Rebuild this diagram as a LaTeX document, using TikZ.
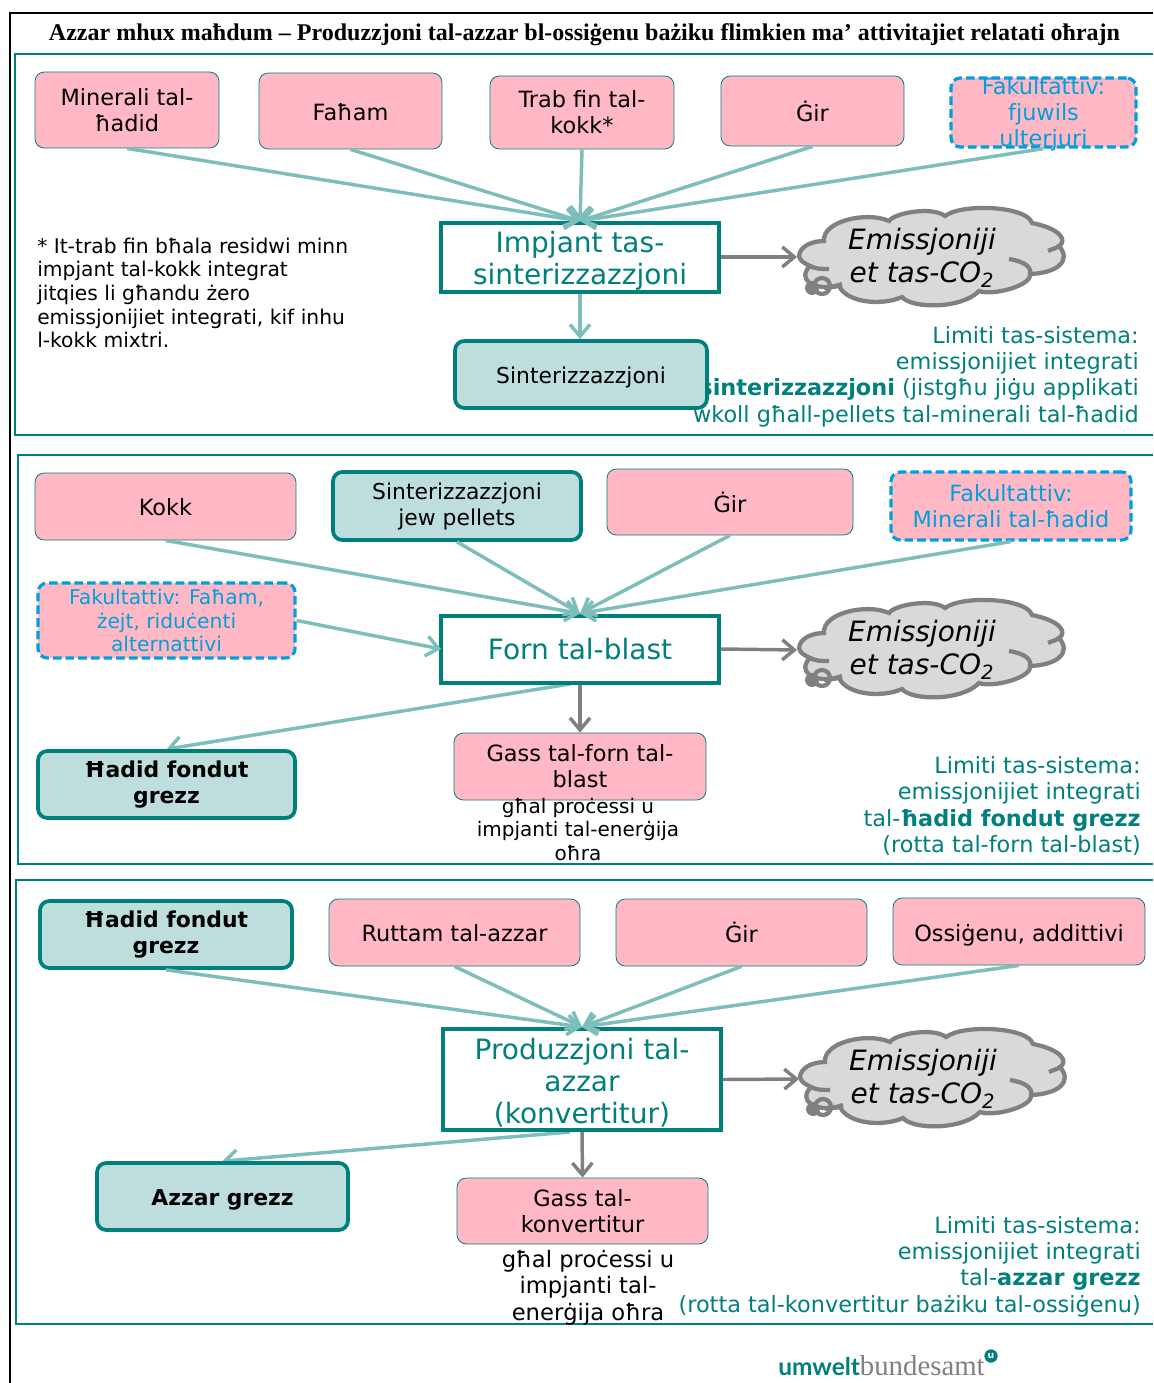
\documentclass[tikz,border=0pt]{standalone}
\usepackage{fontspec}
\setmainfont{DejaVu Sans}
\newfontfamily\headfont{Liberation Serif}
\newfontfamily\logofont{Lato}
\usetikzlibrary{arrows.meta,backgrounds}
\definecolor{ub_teal}{RGB}{0, 128, 124}
\definecolor{ub_line}{RGB}{125, 190, 186}
\definecolor{ub_pink}{RGB}{255, 184, 196}
\definecolor{ub_green}{RGB}{189, 222, 220}
\definecolor{ub_blue}{RGB}{0, 160, 220}
\definecolor{ub_gray}{RGB}{128, 128, 128}
\definecolor{ub_cloud}{RGB}{217, 217, 217}
\newcommand{\sk}{\rule{0pt}{1em}}
\tikzset{sz/.style 2 args={minimum width=#1*0.75pt,minimum height=#2*0.75pt}}
\tikzstyle{pn}=[rectangle,rounded corners=7pt,fill=ub_pink,draw=ub_teal,
  line width=0.6pt,inner sep=0pt,align=center,
  execute at begin node={\rule{0pt}{.85em}},
  font=\fontsize{16.8}{19.5}\selectfont]
\tikzstyle{dn}=[pn,draw=ub_blue,line width=2.4pt,dash pattern=on 6.5pt off 3pt,
  text=ub_blue]
\tikzstyle{gn}=[pn,fill=ub_green,line width=2.8pt,
  execute at begin node={\rule{0pt}{1.03em}},
  font=\fontsize{16.4}{19.5}\selectfont]
\tikzstyle{wn}=[rectangle,fill=white,draw=ub_teal,line width=3pt,inner sep=0pt,
  align=center,text=ub_teal,font=\fontsize{21}{24}\selectfont]
\tikzstyle{cn}=[inner sep=0pt,align=center,
  font=\fontsize{21}{24.5}\itshape\selectfont]
\tikzstyle{ln}=[inner sep=0pt,anchor=east,align=right,text=ub_teal,
  font=\fontsize{16.8}{19.8}\selectfont]
\tikzstyle{tn}=[inner sep=0pt,align=center,font=\fontsize{15}{17.6}\selectfont]
\tikzstyle{feed}=[draw=ub_line,line width=2.6pt,
  -{Straight Barb[length=9pt,width=15pt]}]
\tikzstyle{prod}=[draw=ub_gray,line width=2.6pt,
  -{Straight Barb[length=9pt,width=15pt]}]
\tikzstyle{panel}=[draw=ub_teal,line width=1.6pt]
\tikzset{emcloud/.pic={
  \path [fill=ub_cloud,draw=ub_gray,line width=3.2pt]
    (17,65) .. controls (18,55) and (30,50) .. (42,50)
    .. controls (40,30) and (85,20) .. (107,30)
    .. controls (112,22) and (150,15) .. (163,25)
    .. controls (180,12) and (245,15) .. (250,32)
    .. controls (280,38) and (285,50) .. (277,55)
    .. controls (290,70) and (275,82) .. (248,83)
    .. controls (250,95) and (210,105) .. (197,100)
    .. controls (180,118) and (130,118) .. (120,106)
    .. controls (100,115) and (65,112) .. (57,95)
    .. controls (30,100) and (15,88) .. (28,75)
    .. controls (22,72) and (18,70) .. (17,65) -- cycle;
  \draw [ub_gray,line width=3.2pt] (227,68) .. controls (240,70) and (250,75) .. (248,83);
  \draw [ub_gray,line width=3.2pt] (266,60) .. controls (270,58) and (275,57) .. (277,55);
  \draw [ub_gray,line width=3.2pt] (28,75) .. controls (33,78) and (40,78) .. (47,78);
  \draw [ub_gray,line width=3.2pt] (60,93) .. controls (54,95) and (48,96) .. (42,97);
  \draw [ub_gray,line width=3.2pt] (40,95) circle [radius=8];
  \fill [ub_gray] (30,97) circle [radius=7];
}}

\begin{document}
\begin{tikzpicture}[x=0.75pt,y=-0.75pt]
        \useasboundingbox (0, 0) rectangle (1153, 1383);
        \begin{scope}[on background layer]
          \fill [white] (0, 0) rectangle (1153, 1383);
        \end{scope}
        \draw [line width=1.6pt] (1153, 13) -- (10, 13) -- (10, 1383);
        \draw [style=panel] (1153, 54) -- (15, 54) -- (15, 435) -- (1153, 435);
        \draw [style=panel] (1153, 455) -- (18, 455) -- (18, 864) -- (1153, 864);
        \draw [style=panel] (1153, 880) -- (16, 880) -- (16, 1324) -- (1153, 1324);
        \node [inner sep=0pt,font=\fontsize{18}{20}\headfont\bfseries] (title) at (584.5, 35) {Azzar mhux maħdum – Produzzjoni tal-azzar bl-ossiġenu bażiku flimkien ma’ attivitajiet relatati oħrajn};

        \node [style=pn,sz={184}{76}] (0) at (127, 110) {Minerali tal-\\ħadid};
        \node [style=pn,sz={183}{76}] (1) at (350.5, 111) {Faħam};
        \node [style=pn,sz={184}{73}] (2) at (582, 112.5) {Trab fin tal-\\kokk*};
        \node [style=pn,sz={183}{70}] (3) at (812.5, 111) {Ġir};
        \node [style=dn,sz={185}{69}] (4) at (1043.5, 112.5) {};
        \node [inner sep=0pt,align=center,text=ub_blue,font=\fontsize{16.8}{19.5}\selectfont] (4t) at (1043.5, 114.5) {Fakultattiv:\\fjuwils\\ulterjuri};
        \node [style=wn,sz={278}{69}] (5) at (580, 257.5) {\sk Impjant tas-\\sinterizzazzjoni};
        \node [style=ln] (6) at (1139, 376.5) {Limiti tas-sistema:\\emissjonijiet integrati\\\textcolor{ub_teal}{\bfseries sinterizzazzjoni} (jistgħu jiġu applikati\\wkoll għall-pellets tal-minerali tal-ħadid};
        \node [style=gn,sz={252}{67}] (7) at (581, 374.5) {Sinterizzazzjoni};
        \node [inner sep=0pt,anchor=west,align=left,font=\fontsize{15.2}{17.7}\selectfont] (8) at (37, 293) {* It-trab fin bħala residwi minn\\impjant tal-kokk integrat\\jitqies li għandu żero\\emissjonijiet integrati, kif inhu\\l-kokk mixtri.};
        \pic at (782, 191) {emcloud};
        \node [style=cn] (9) at (922, 258) {Emissjoniji\\et tas-CO\textsubscript{2}};
        \coordinate (10) at (797, 257);
        \draw [style=feed] (0.south) -- (5.north);
        \draw [style=feed] (1.south) -- (5.north);
        \draw [style=feed] (2.south) -- (5.north);
        \draw [style=feed] (3.south) -- (5.north);
        \draw [style=feed] (4.south) -- (5.north);
        \draw [style=feed] (5.south) -- (7.north -| 5.south);
        \draw [style=prod] (5.east |- 10) -- (10);

        \node [style=pn,sz={261}{67}] (11) at (165.5, 506.5) {Kokk};
        \node [style=gn,sz={248}{68},execute at begin node={\rule{0pt}{.85em}}] (12) at (457, 506) {Sinterizzazzjoni\\jew pellets};
        \node [style=pn,sz={246}{66}] (13) at (730, 502) {Ġir};
        \node [style=dn,sz={240}{68}] (14) at (1011, 506) {Fakultattiv:\\Minerali tal-ħadid};
        \node [style=dn,sz={257}{75},font=\fontsize{15.2}{17.6}\selectfont] (15) at (166.5, 620.5) {Fakultattiv: Faħam,\\żejt, riduċenti\\alternattivi};
        \node [style=wn,sz={278}{67}] (16) at (580, 649) {Forn tal-blast};
        \node [style=gn,sz={257}{67}] (17) at (166.5, 784.5) {\bfseries Ħadid fondut\\\bfseries grezz};
        \node [style=pn,sz={252}{67}] (18) at (580, 766.5) {Gass tal-forn tal-\\blast};
        \node [style=tn] (19) at (578, 829.5) {għal proċessi u\\impjanti tal-enerġija\\oħra};
        \node [style=ln] (20) at (1141, 806) {Limiti tas-sistema:\\emissjonijiet integrati\\tal-\textbf{ħadid fondut grezz}\\(rotta tal-forn tal-blast)};
        \pic at (782, 583) {emcloud};
        \node [style=cn] (21) at (922, 650) {Emissjoniji\\et tas-CO\textsubscript{2}};
        \coordinate (22) at (797, 650);
        \coordinate (23) at (441, 649);
        \coordinate (24) at (570, 684);
        \draw [style=feed] (11.south) -- (16.north);
        \draw [style=feed] (12.south) -- (16.north);
        \draw [style=feed] (13.south) -- (16.north);
        \draw [style=feed] (14.south) -- (16.north);
        \draw [style=feed] (15.east) -- (23);
        \begin{scope}[on background layer]
          \draw [style=feed] (24) -- (17.north);
        \end{scope}
        \draw [style=prod] (16.south) -- (18.north);
        \draw [style=prod] (16.east) -- (22);

        \node [style=gn,sz={252}{67}] (25) at (166, 934.5) {\bfseries Ħadid fondut\\\bfseries grezz};
        \node [style=pn,sz={251}{67}] (26) at (454.5, 932.5) {Ruttam tal-azzar};
        \node [style=pn,sz={251}{67}] (27) at (741.5, 932.5) {Ġir};
        \node [style=pn,sz={252}{67}] (28) at (1019, 931.5) {\rule{0pt}{1.1em}Ossiġenu, addittivi};
        \node [style=wn,sz={278}{101}] (29) at (582, 1079.5) {\sk Produzzjoni tal-\\azzar\\(konvertitur)};
        \node [style=gn,sz={251}{67}] (30) at (222.5, 1196.5) {\bfseries Azzar grezz};
        \node [style=pn,sz={251}{66}] (31) at (582.5, 1211) {Gass tal-\\konvertitur};
        \node [style=tn,font=\fontsize{17}{19.8}\selectfont] (32) at (588, 1287.5) {għal proċessi u\\impjanti tal-\\enerġija oħra};
        \node [style=ln] (33) at (1141, 1266.5) {Limiti tas-sistema:\\emissjonijiet integrati\\tal-\textbf{azzar grezz}\\(rotta tal-konvertitur bażiku tal-ossiġenu)};
        \pic at (783, 1012) {emcloud};
        \node [style=cn] (34) at (923, 1079) {Emissjoniji\\et tas-CO\textsubscript{2}};
        \coordinate (35) at (799, 1079);
        \coordinate (36) at (570, 1132);
        \draw [style=feed] (25.south) -- (29.north);
        \draw [style=feed] (26.south) -- (29.north);
        \draw [style=feed] (27.south) -- (29.north);
        \draw [style=feed] (28.south) -- (29.north);
        \begin{scope}[on background layer]
          \draw [style=feed] (36) -- (30.north);
        \end{scope}
        \draw [style=prod] (29.south) -- (31.north);
        \draw [style=prod] (29.east) -- (35);

        \node [inner sep=0pt,anchor=west,text=ub_teal,font=\fontsize{18.3}{20}\logofont\bfseries] (37) at (778, 1366) {umwelt\textcolor{ub_gray}{\fontsize{21.6}{20}\headfont\mdseries bundesamt}};
        \node [circle,fill=ub_teal,text=white,inner sep=0pt,minimum size=10pt,font=\fontsize{7}{7}\bfseries\selectfont] (38) at (991, 1356) {u};
    \end{tikzpicture}
\end{document}
